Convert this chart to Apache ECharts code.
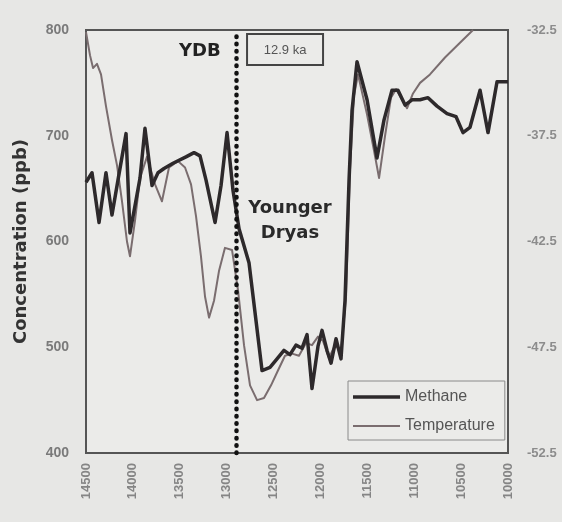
<!DOCTYPE html>
<html>
<head>
<meta charset="utf-8">
<script src="https://cdn.jsdelivr.net/npm/echarts@6/dist/echarts.min.js"></script>
<style>
  html, body { margin: 0; padding: 0; background: #e7e7e5; }
  #chart { width: 562px; height: 522px; }
</style>
</head>
<body>
<div id="chart"></div>
<script>
// Age axis (calendar years BP, older on the left)
const ageTicks = [14500, 14000, 13500, 13000, 12500, 12000, 11500, 11000, 10500, 10000];
const concTicks = [400, 500, 600, 700, 800];
const tempTicks = [-52.5, -47.5, -42.5, -37.5, -32.5];

// Methane concentration (ppb)
const methaneYear = [14500,14436,14361,14287,14223,14159,14073,14031,13967,13924,
  13871,13796,13732,13668,13572,13434,13348,13284,13220,13124,
  13060,12996,12932,12868,12815,12762,12687,12623,12538,12463,
  12389,12325,12261,12197,12143,12090,12026,11983,11930,11887,
  11834,11781,11738,11695,11663,11610,11503,11397,11322,11237,
  11173,11098,11024,10939,10853,10757,10650,10554,10480,10405,
  10298,10213,10117,10000];
const methanePpb = [656,665,618,665,625,658,702,608,639,660,
  707,653,665,669,674,680,684,681,658,618,
  653,703,648,612,596,580,525,478,481,489,
  497,493,502,499,512,461,501,516,497,485,
  508,489,544,658,724,770,734,679,715,743,
  743,729,734,734,736,728,721,718,703,708,
  743,703,751,751];

// Temperature (°C)
const tempYear = [14500,14457,14425,14383,14340,14287,14223,14169,14116,14063,
  14031,13977,13924,13850,13764,13690,13615,13519,13444,13380,
  13327,13274,13231,13188,13135,13082,13018,12943,12879,12815,
  12751,12676,12602,12527,12453,12378,12303,12229,12154,12090,
  12026,11973,11909,11845,11781,11727,11685,11642,11599,11503,
  11429,11375,11311,11248,11194,11130,11077,11013,10938,10832,
  10672,10512,10373];
const tempC = [-32.6,-33.7,-34.3,-34.1,-34.6,-36.1,-37.7,-38.9,-40.6,-42.5,
  -43.2,-41.5,-39.5,-38.5,-39.8,-40.6,-39.0,-38.7,-39.0,-39.8,
  -41.3,-43.2,-45.1,-46.1,-45.3,-43.9,-42.8,-42.9,-44.8,-47.4,
  -49.3,-50.0,-49.9,-49.3,-48.6,-47.9,-47.8,-47.9,-47.3,-47.4,
  -47.0,-47.2,-48.0,-47.4,-47.7,-45.1,-39.1,-35.6,-34.6,-36.5,
  -38.2,-39.5,-37.5,-35.7,-35.3,-35.8,-36.2,-35.5,-35.0,-34.6,
  -33.8,-33.1,-32.5];

// Younger Dryas boundary
const ydbYear = 12900;
const ydbLabel = '12.9 ka';

const chart = echarts.init(document.getElementById('chart'), null, { renderer: 'canvas' });

const methaneData = methaneYear.map((y, i) => [y, methanePpb[i]]);
const tempData = tempYear.map((y, i) => [y, tempC[i]]);

const labelFont = 'Liberation Sans, Arial, sans-serif';
const titleFont = 'DejaVu Sans, sans-serif';

const methaneColor = '#2d292b';
const tempColor = '#7a6d6f';

chart.setOption({
  backgroundColor: '#e7e7e5',
  animation: false,
  grid: {
    left: 86, right: 54, top: 30, bottom: 69,
    show: true, backgroundColor: '#ebebe9',
    borderColor: '#555', borderWidth: 2
  },
  xAxis: {
    type: 'value',
    min: ageTicks[ageTicks.length - 1],
    max: ageTicks[0],
    interval: 500,
    inverse: true,
    splitLine: { show: false },
    axisTick: { show: false },
    axisLine: { show: true, lineStyle: { color: '#555', width: 2 } },
    axisLabel: {
      rotate: 90, margin: 10,
      color: '#858585', fontSize: 13, fontFamily: labelFont, fontWeight: 'bold',
      formatter: v => String(v)
    }
  },
  yAxis: [{
    type: 'value',
    min: concTicks[0], max: concTicks[concTicks.length - 1], interval: 100,
    name: 'Concentration (ppb)',
    nameLocation: 'middle', nameGap: 56,
    nameTextStyle: { color: '#333', fontSize: 18, fontWeight: 'bold', fontFamily: titleFont },
    splitLine: { show: false },
    axisTick: { show: false },
    axisLine: { show: true, lineStyle: { color: '#555', width: 2 } },
    axisLabel: { margin: 17, color: '#7a7a7a', fontSize: 14, fontWeight: 'bold', fontFamily: labelFont }
  }, {
    type: 'value',
    position: 'right',
    min: tempTicks[0], max: tempTicks[tempTicks.length - 1], interval: 5,
    splitLine: { show: false },
    axisTick: { show: false },
    axisLine: { show: true, lineStyle: { color: '#555', width: 2 } },
    axisLabel: {
      margin: 19, color: '#8c8c8c', fontSize: 13, fontWeight: 'bold', fontFamily: labelFont,
      formatter: v => v.toFixed(1)
    }
  }],
  legend: {
    orient: 'vertical',
    left: 348, top: 381,
    padding: [8, 10, 6, 5],
    itemGap: 13,
    itemWidth: 47, itemHeight: 14,
    borderColor: '#8a8a8a', borderWidth: 1,
    textStyle: { color: '#555', fontSize: 16, fontFamily: labelFont },
    data: [
      { name: 'Methane', icon: 'path://M0 0H47V3.5H0Z', itemStyle: { color: methaneColor } },
      { name: 'Temperature', icon: 'path://M0 0H47V2H0Z', itemStyle: { color: tempColor } }
    ]
  },
  series: [{
    name: 'Methane',
    type: 'line',
    yAxisIndex: 0,
    data: methaneData,
    symbol: 'none',
    z: 3,
    lineStyle: { color: methaneColor, width: 3.5, join: 'round' },
    itemStyle: { color: methaneColor },
    markLine: {
      silent: true,
      symbol: 'none',
      label: { show: false },
      lineStyle: { color: '#111', width: 4.5, type: [0.5, 6.8], cap: 'round' },
      data: [{ xAxis: ydbYear }]
    }
  }, {
    name: 'Temperature',
    type: 'line',
    yAxisIndex: 1,
    data: tempData,
    symbol: 'none',
    z: 2,
    lineStyle: { color: tempColor, width: 2, join: 'round' },
    itemStyle: { color: tempColor }
  }]
});

// Annotations anchored to the boundary line
const xLine = chart.convertToPixel({ xAxisIndex: 0 }, ydbYear);
const yTop = chart.convertToPixel({ yAxisIndex: 0 }, 800);
chart.setOption({
  graphic: [{
    type: 'text',
    left: xLine - 14 - 43, top: yTop + 12,
    style: { text: 'YDB', fill: '#222', font: 'bold 18px ' + titleFont }
  }, {
    type: 'rect',
    shape: { x: xLine + 11, y: yTop + 4, width: 76, height: 31 },
    style: { fill: 'none', stroke: '#444', lineWidth: 2 }
  }, {
    type: 'text',
    x: xLine + 49, y: yTop + 20,
    style: { text: ydbLabel, fill: '#555', font: '13px ' + labelFont, align: 'center', verticalAlign: 'middle' }
  }, {
    type: 'text',
    x: 290, y: 221,
    style: {
      text: 'Younger\nDryas', fill: '#2a2a2a', font: 'bold 18px ' + titleFont,
      align: 'center', verticalAlign: 'middle', lineHeight: 25
    }
  }]
});
</script>
</body>
</html>
